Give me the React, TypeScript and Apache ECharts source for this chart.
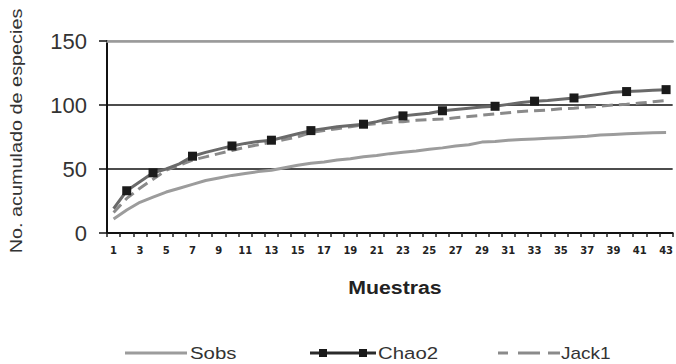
import React, { useEffect, useRef } from "react";
import * as echarts from "echarts";

const samples = Array.from({ length: 43 }, (_, i) => String(i + 1));

const sobs = [
  11, 18, 24, 28, 32, 35, 38, 41, 43, 45,
  46.5, 48, 49, 51, 53, 54.5, 55.5, 57, 58, 59.5,
  60.5, 62, 63, 64, 65.5, 66.5, 68, 69, 71, 71.5,
  72.5, 73, 73.5, 74, 74.5, 75, 75.5, 76.5, 77, 77.5,
  78, 78.3, 78.5,
];

const chao2 = [
  19, 33, 40, 47, 50, 54, 60, 63, 65.5, 68,
  70, 71.5, 72.5, 75, 77.5, 80, 81.5, 83, 84, 85,
  87, 89.5, 91.5, 92.5, 93.5, 95.5, 96.5, 97.5, 98.5, 99,
  100.5, 102, 103, 103.5, 104.5, 105.5, 107, 108.5, 110, 110.5,
  111, 111.5, 112,
];

const jack1 = [
  16, 27, 35, 42, 49, 53, 57, 59.5, 62, 64.5,
  67, 69, 71, 73, 75, 78.5, 80, 81.5, 83, 84.5,
  85.5, 86.5, 87, 88, 88.5, 89, 90, 91, 92, 93,
  94, 95, 95.5, 96, 97, 97.5, 98.5, 99, 100, 100.5,
  101.5, 102.5, 103.5,
];

// 1-based sample numbers where Chao2 shows a square marker
const chao2Markers = [2, 4, 7, 10, 13, 16, 20, 23, 26, 30, 33, 36, 40, 43];

const yTicks = [0, 50, 100, 150];

const FONT = "Liberation Sans, Arial, sans-serif";

export default function App() {
  const ref = useRef<HTMLDivElement>(null);

  useEffect(() => {
    if (!ref.current) return;
    const chart = echarts.init(ref.current, undefined, { renderer: "svg" });

    const chaoData = chao2.map((v, i) => ({
      value: v,
      symbol: chao2Markers.includes(i + 1) ? "rect" : "none",
    }));

    chart.setOption({
      animation: false,
      backgroundColor: "#ffffff",
      textStyle: { fontFamily: FONT },
      grid: { left: 107, right: 0, top: 41, bottom: 131, containLabel: false },
      xAxis: [
        {
          type: "category",
          data: samples,
          boundaryGap: true,
          position: "bottom",
          axisLine: { show: true, lineStyle: { color: "#111", width: 2 } },
          axisTick: {
            show: true,
            interval: 0,
            length: 4,
            lineStyle: { color: "#222", width: 1.5 },
          },
          axisLabel: {
            interval: 1,
            fontSize: 10,
            fontWeight: "bold",
            fontFamily: "DejaVu Sans, sans-serif",
            color: "#222",
            margin: 12,
          },
          splitLine: { show: false },
        },
        {
          type: "category",
          data: samples,
          position: "top",
          axisLine: { show: true, lineStyle: { color: "#9a9a9a", width: 2.5 } },
          axisTick: { show: false },
          axisLabel: { show: false },
          splitLine: { show: false },
        },
      ],
      yAxis: {
        type: "value",
        min: yTicks[0],
        max: yTicks[yTicks.length - 1],
        interval: 50,
        axisLine: { show: true, lineStyle: { color: "#111", width: 2 } },
        axisTick: {
          show: true,
          length: 8,
          inside: false,
          lineStyle: { color: "#111", width: 1.5 },
        },
        axisLabel: { fontSize: 22, color: "#333", margin: 20, fontFamily: FONT },
        splitLine: {
          show: true,
          lineStyle: { color: ["#111", "#111", "#111", "#9a9a9a"], width: 1.6 },
        },
      },
      series: [
        {
          name: "Sobs",
          type: "line",
          data: sobs,
          symbol: "none",
          lineStyle: { color: "#9c9c9c", width: 3 },
          z: 2,
        },
        {
          name: "Jack1",
          type: "line",
          data: jack1,
          symbol: "none",
          lineStyle: { color: "#8a8a8a", width: 3, type: [11, 6] },
          z: 3,
        },
        {
          name: "Chao2",
          type: "line",
          data: chaoData,
          showSymbol: true,
          showAllSymbol: true,
          symbolSize: 9,
          itemStyle: { color: "#1a1a1a" },
          lineStyle: { color: "#6a6a6a", width: 3 },
          z: 4,
        },
      ],
      graphic: [
        {
          type: "text",
          x: 17,
          y: 131,
          rotation: Math.PI / 2,
          scaleX: 1.24,
          style: {
            text: "No. acumulado de especies",
            font: `16px ${FONT}`,
            fill: "#333",
            align: "center",
            verticalAlign: "middle",
          },
        },
        {
          type: "text",
          x: 395,
          y: 287,
          scaleX: 1.12,
          style: {
            text: "Muestras",
            font: `bold 19px ${FONT}`,
            fill: "#222",
            align: "center",
            verticalAlign: "middle",
          },
        },
        // legend: Sobs
        {
          type: "line",
          shape: { x1: 125, y1: 353, x2: 187, y2: 353 },
          style: { stroke: "#9c9c9c", lineWidth: 3 },
        },
        {
          type: "text",
          x: 190,
          y: 353,
          scaleX: 1.2,
          style: {
            text: "Sobs",
            font: `17px ${FONT}`,
            fill: "#333",
            align: "left",
            verticalAlign: "middle",
          },
        },
        // legend: Chao2
        {
          type: "line",
          shape: { x1: 310, y1: 353, x2: 376, y2: 353 },
          style: { stroke: "#2a2a2a", lineWidth: 3 },
        },
        {
          type: "rect",
          shape: { x: 319, y: 349, width: 8, height: 8 },
          style: { fill: "#1a1a1a" },
        },
        {
          type: "rect",
          shape: { x: 359, y: 349, width: 8, height: 8 },
          style: { fill: "#1a1a1a" },
        },
        {
          type: "text",
          x: 378,
          y: 353,
          scaleX: 1.2,
          style: {
            text: "Chao2",
            font: `17px ${FONT}`,
            fill: "#333",
            align: "left",
            verticalAlign: "middle",
          },
        },
        // legend: Jack1
        {
          type: "line",
          shape: { x1: 498, y1: 353, x2: 508, y2: 353 },
          style: { stroke: "#8a8a8a", lineWidth: 3 },
        },
        {
          type: "line",
          shape: { x1: 518, y1: 353, x2: 540, y2: 353 },
          style: { stroke: "#8a8a8a", lineWidth: 3 },
        },
        {
          type: "line",
          shape: { x1: 548, y1: 353, x2: 560, y2: 353 },
          style: { stroke: "#8a8a8a", lineWidth: 3 },
        },
        {
          type: "text",
          x: 561,
          y: 353,
          scaleX: 1.12,
          style: {
            text: "Jack1",
            font: `17px ${FONT}`,
            fill: "#333",
            align: "left",
            verticalAlign: "middle",
          },
        },
      ],
    });

    return () => chart.dispose();
  }, []);

  return (
    <div
      ref={ref}
      style={{ position: "fixed", left: 0, top: 0, width: 676, height: 364 }}
    />
  );
}
